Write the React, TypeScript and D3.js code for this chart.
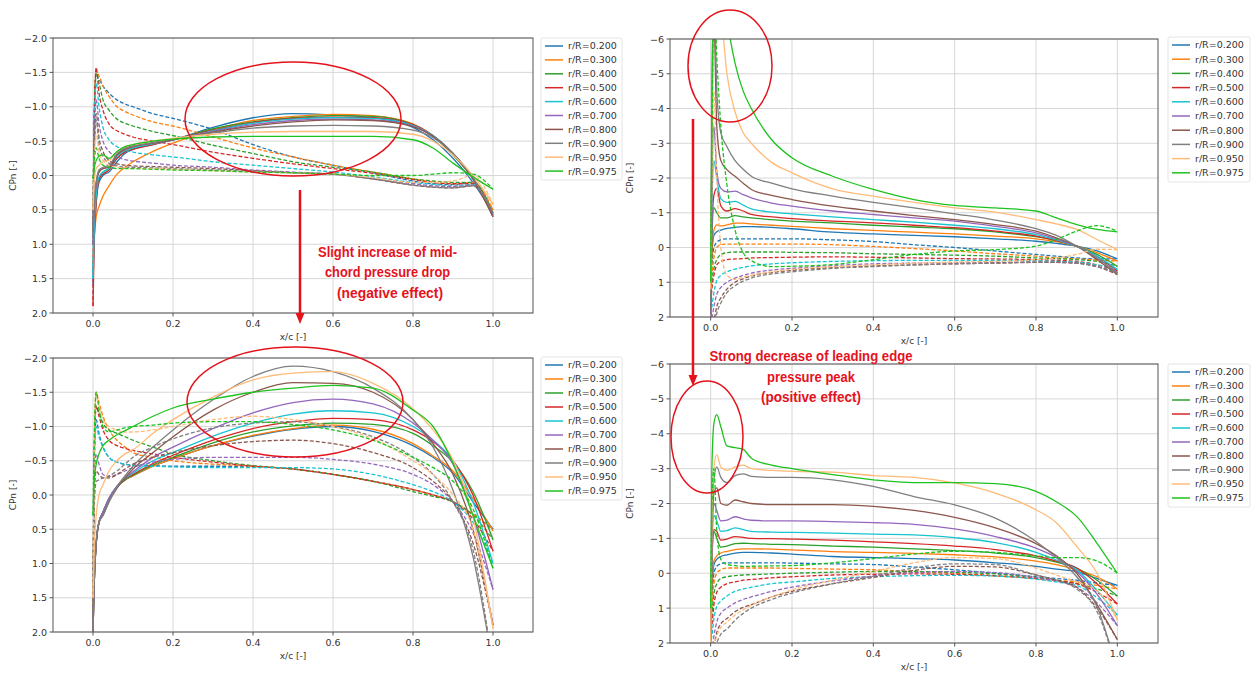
import React from "react";
import * as d3 from "d3";

// chordwise stations shared by every curve
const xc = [0, 0.003, 0.008, 0.015, 0.025, 0.04, 0.06, 0.08, 0.1, 0.15, 0.2, 0.3, 0.4, 0.5, 0.6, 0.7, 0.8, 0.85, 0.9, 0.95, 1.0];

const stations = ["0.200", "0.300", "0.400", "0.500", "0.600", "0.700", "0.800", "0.900", "0.950", "0.975"];
const colors = ["#1f77b4", "#ff7f0e", "#2ca02c", "#d62728", "#17c4d0", "#9467bd", "#8c564b", "#7f7f7f", "#ffbb78", "#1ec21e"];

const xTicks = [0, 0.2, 0.4, 0.6, 0.8, 1.0];
const yTicksHalf = [-2, -1.5, -1, -0.5, 0, 0.5, 1, 1.5, 2];
const yTicksUnit = [-6, -5, -4, -3, -2, -1, 0, 1, 2];

// top-left: suction side (solid)
const tlSuction = [
  [1.6, 0.9, 0.4, 0.1, 0.0, -0.05, -0.2, -0.32, -0.38, -0.45, -0.52, -0.7, -0.84, -0.9, -0.88, -0.84, -0.7, -0.52, -0.25, 0.1, 0.55],
  [1.2, 0.9, 0.6, 0.45, 0.3, 0.15, -0.02, -0.12, -0.2, -0.35, -0.47, -0.66, -0.8, -0.86, -0.89, -0.87, -0.75, -0.58, -0.3, 0.05, 0.5],
  [1.4, 0.8, 0.3, 0.05, -0.05, -0.1, -0.25, -0.35, -0.4, -0.47, -0.52, -0.68, -0.78, -0.84, -0.87, -0.86, -0.74, -0.57, -0.3, 0.05, 0.55],
  [1.9, 1.0, 0.4, 0.05, -0.02, -0.08, -0.25, -0.34, -0.38, -0.45, -0.52, -0.66, -0.77, -0.83, -0.85, -0.84, -0.74, -0.58, -0.32, 0.05, 0.58],
  [1.5, 0.8, 0.3, 0.02, -0.05, -0.1, -0.28, -0.36, -0.4, -0.46, -0.52, -0.65, -0.76, -0.82, -0.84, -0.83, -0.73, -0.58, -0.32, 0.05, 0.58],
  [1.0, 0.5, 0.15, -0.05, -0.1, -0.12, -0.3, -0.38, -0.42, -0.47, -0.52, -0.64, -0.74, -0.8, -0.82, -0.81, -0.72, -0.57, -0.32, 0.05, 0.6],
  [0.8, 0.4, 0.1, -0.05, -0.1, -0.12, -0.3, -0.38, -0.42, -0.47, -0.52, -0.63, -0.72, -0.78, -0.81, -0.8, -0.71, -0.57, -0.32, 0.05, 0.6],
  [0.9, 0.4, 0.1, -0.08, -0.12, -0.15, -0.32, -0.4, -0.43, -0.48, -0.53, -0.62, -0.69, -0.72, -0.73, -0.72, -0.66, -0.55, -0.32, 0.03, 0.55],
  [0.5, 0.1, -0.1, -0.15, -0.2, -0.22, -0.35, -0.42, -0.45, -0.5, -0.54, -0.6, -0.63, -0.64, -0.64, -0.64, -0.6, -0.5, -0.3, 0.0, 0.42],
  [0.05, -0.1, -0.22, -0.28, -0.3, -0.25, -0.35, -0.42, -0.45, -0.5, -0.53, -0.56, -0.57, -0.57, -0.57, -0.57, -0.52, -0.4, -0.18, 0.02, 0.2],
];
// top-left: pressure side (dashed)
const tlPressure = [
  [1.0, -0.8, -1.45, -1.4, -1.3, -1.2, -1.1, -1.04, -1.0, -0.9, -0.83, -0.67, -0.45, -0.27, -0.15, -0.04, 0.08, 0.12, 0.13, 0.1, 0.55],
  [1.0, -0.9, -1.5, -1.45, -1.3, -1.15, -1.0, -0.93, -0.88, -0.78, -0.72, -0.56, -0.4, -0.27, -0.15, -0.05, 0.05, 0.1, 0.12, 0.1, 0.5],
  [1.0, -0.9, -1.5, -1.35, -1.1, -0.95, -0.82, -0.76, -0.72, -0.64, -0.58, -0.44, -0.32, -0.2, -0.12, -0.05, 0.05, 0.08, 0.1, 0.1, 0.55],
  [1.9, -0.8, -1.57, -1.2, -0.95, -0.75, -0.65, -0.6, -0.56, -0.5, -0.45, -0.34, -0.25, -0.17, -0.1, -0.03, 0.06, 0.1, 0.12, 0.12, 0.58],
  [1.5, -0.7, -1.35, -1.0, -0.7, -0.52, -0.42, -0.37, -0.34, -0.3, -0.27, -0.2, -0.15, -0.1, -0.05, 0.02, 0.1, 0.13, 0.15, 0.13, 0.58],
  [1.0, -0.5, -1.1, -0.75, -0.5, -0.35, -0.27, -0.23, -0.21, -0.18, -0.15, -0.12, -0.08, -0.05, -0.02, 0.05, 0.12, 0.15, 0.16, 0.14, 0.6],
  [0.8, -0.4, -0.9, -0.55, -0.35, -0.22, -0.17, -0.15, -0.14, -0.13, -0.12, -0.1, -0.07, -0.04, -0.02, 0.05, 0.14, 0.17, 0.18, 0.15, 0.6],
  [0.9, -0.3, -0.8, -0.45, -0.28, -0.18, -0.14, -0.12, -0.12, -0.11, -0.1, -0.08, -0.06, -0.04, -0.02, 0.05, 0.14, 0.17, 0.18, 0.15, 0.55],
  [0.5, -0.2, -0.6, -0.35, -0.22, -0.15, -0.12, -0.11, -0.1, -0.1, -0.09, -0.07, -0.05, -0.04, -0.02, 0.03, 0.1, 0.1, 0.08, 0.0, 0.42],
  [0.05, -0.2, -0.4, -0.25, -0.15, -0.12, -0.1, -0.1, -0.1, -0.09, -0.08, -0.07, -0.05, -0.04, -0.02, 0.0, 0.0, -0.02, -0.04, -0.02, 0.2],
];

// bottom-left
const blSuction = [
  [1.8, 1.2, 0.7, 0.4, 0.25, 0.05, -0.12, -0.22, -0.28, -0.42, -0.53, -0.72, -0.86, -0.96, -1.0, -0.93, -0.72, -0.55, -0.32, 0.1, 0.5],
  [1.8, 1.2, 0.7, 0.4, 0.25, 0.05, -0.12, -0.22, -0.28, -0.42, -0.53, -0.72, -0.87, -0.97, -1.02, -0.96, -0.75, -0.57, -0.35, 0.05, 0.52],
  [1.9, 1.2, 0.7, 0.4, 0.25, 0.05, -0.12, -0.22, -0.29, -0.44, -0.55, -0.76, -0.92, -1.01, -1.05, -1.03, -0.9, -0.72, -0.48, -0.05, 0.65],
  [2.0, 1.3, 0.7, 0.4, 0.25, 0.05, -0.12, -0.23, -0.3, -0.46, -0.58, -0.8, -0.97, -1.07, -1.12, -1.1, -0.95, -0.78, -0.5, 0.0, 0.82],
  [2.0, 1.3, 0.7, 0.4, 0.25, 0.05, -0.13, -0.24, -0.32, -0.5, -0.62, -0.86, -1.05, -1.18, -1.23, -1.2, -1.0, -0.8, -0.5, 0.1, 1.0],
  [2.0, 1.3, 0.7, 0.4, 0.25, 0.05, -0.13, -0.25, -0.34, -0.55, -0.7, -0.97, -1.2, -1.35, -1.4, -1.33, -1.05, -0.8, -0.45, 0.3, 1.38],
  [2.0, 1.3, 0.7, 0.4, 0.3, 0.1, -0.1, -0.25, -0.38, -0.62, -0.85, -1.24, -1.5, -1.64, -1.63, -1.5, -1.1, -0.75, -0.3, 0.5, 1.9],
  [2.0, 1.3, 0.7, 0.4, 0.3, 0.1, -0.12, -0.28, -0.42, -0.7, -0.95, -1.39, -1.73, -1.88, -1.8, -1.56, -1.1, -0.7, -0.07, 0.9, 2.5],
  [1.5, 0.8, 0.3, 0.0, -0.15, -0.35, -0.5, -0.6, -0.66, -0.9, -1.1, -1.43, -1.68, -1.78, -1.8, -1.63, -1.26, -0.95, -0.51, 0.32, 1.95],
  [0.3, -0.2, -0.45, -0.6, -0.72, -0.8, -0.88, -0.94, -1.0, -1.15, -1.27, -1.4, -1.5, -1.56, -1.6, -1.56, -1.24, -1.0, -0.46, 0.3, 1.07],
];
const blPressure = [
  [1.8, -0.5, -1.1, -0.9, -0.7, -0.55, -0.48, -0.45, -0.44, -0.43, -0.42, -0.42, -0.41, -0.38, -0.3, -0.2, -0.08, 0.0, 0.1, 0.28, 0.5],
  [1.8, -0.6, -1.5, -1.35, -1.15, -0.95, -0.8, -0.7, -0.62, -0.55, -0.5, -0.45, -0.42, -0.38, -0.3, -0.2, -0.08, 0.0, 0.1, 0.28, 0.52],
  [1.9, -0.6, -1.3, -1.2, -1.05, -0.95, -0.9, -0.85, -0.8, -0.7, -0.6, -0.5, -0.43, -0.38, -0.3, -0.2, -0.05, 0.02, 0.1, 0.3, 0.65],
  [2.0, -0.5, -1.3, -1.15, -0.95, -0.8, -0.72, -0.68, -0.65, -0.6, -0.55, -0.48, -0.42, -0.38, -0.3, -0.2, -0.08, 0.0, 0.1, 0.35, 0.82],
  [2.0, -0.4, -1.0, -0.85, -0.7, -0.55, -0.48, -0.45, -0.43, -0.42, -0.41, -0.4, -0.4, -0.4, -0.38, -0.3, -0.15, -0.05, 0.1, 0.4, 1.0],
  [2.0, -0.2, -0.6, -0.45, -0.3, -0.27, -0.3, -0.35, -0.4, -0.48, -0.52, -0.55, -0.55, -0.55, -0.52, -0.45, -0.3, -0.15, 0.1, 0.55, 1.38],
  [2.0, 0.0, -0.35, -0.3, -0.25, -0.25, -0.3, -0.38, -0.45, -0.55, -0.62, -0.72, -0.78, -0.8, -0.75, -0.62, -0.4, -0.2, 0.1, 0.7, 1.9],
  [2.0, 0.2, -0.2, -0.22, -0.25, -0.28, -0.35, -0.45, -0.55, -0.7, -0.82, -0.98, -1.05, -1.07, -1.0, -0.85, -0.55, -0.3, 0.1, 0.8, 2.5],
  [1.5, -0.5, -1.5, -1.3, -1.1, -1.0, -0.95, -0.92, -0.92, -0.95, -1.0, -1.1, -1.15, -1.1, -1.0, -0.82, -0.5, -0.3, 0.0, 0.5, 1.95],
  [0.3, -0.8, -1.5, -1.25, -1.0, -0.92, -0.95, -0.98, -1.0, -1.02, -1.05, -1.07, -1.07, -1.03, -0.95, -0.8, -0.55, -0.4, -0.2, 0.2, 1.07],
];

// top-right
const trSuction = [
  [1.0, 0.2, -0.35, -0.45, -0.5, -0.55, -0.58, -0.6, -0.6, -0.58, -0.54, -0.44, -0.39, -0.35, -0.31, -0.25, -0.18, -0.12, -0.04, 0.1, 0.33],
  [1.2, 0.2, -0.5, -0.65, -0.62, -0.65, -0.7, -0.7, -0.68, -0.64, -0.61, -0.54, -0.49, -0.44, -0.39, -0.33, -0.25, -0.17, -0.04, 0.15, 0.39],
  [1.5, -0.3, -1.15, -1.0, -0.85, -0.85, -0.92, -0.88, -0.85, -0.8, -0.76, -0.71, -0.64, -0.59, -0.54, -0.45, -0.31, -0.2, -0.04, 0.2, 0.54],
  [1.7, -0.5, -1.5, -1.7, -1.2, -1.05, -1.12, -1.05, -0.95, -0.88, -0.83, -0.76, -0.71, -0.64, -0.57, -0.47, -0.33, -0.2, -0.04, 0.25, 0.68],
  [1.9, -1.0, -2.5, -2.0, -1.4, -1.3, -1.33, -1.22, -1.11, -1.02, -0.97, -0.88, -0.8, -0.73, -0.64, -0.54, -0.37, -0.22, -0.04, 0.25, 0.63],
  [1.8, -1.5, -3.5, -2.2, -1.7, -1.6, -1.62, -1.52, -1.43, -1.28, -1.19, -1.05, -0.95, -0.85, -0.76, -0.61, -0.42, -0.25, -0.04, 0.3, 0.73],
  [1.7, -3.0, -6.5, -3.5, -2.5, -2.24, -2.05, -1.85, -1.67, -1.5, -1.38, -1.19, -1.05, -0.92, -0.8, -0.66, -0.47, -0.28, -0.04, 0.35, 0.78],
  [1.5, -4.0, -7.5, -4.5, -3.3, -2.9, -2.5, -2.25, -2.05, -1.85, -1.69, -1.48, -1.3, -1.14, -0.97, -0.79, -0.54, -0.35, -0.04, 0.3, 0.73],
  [1.2, -3.0, -7.0, -7.5, -6.8, -5.0, -3.9, -3.3, -3.0, -2.45, -2.15, -1.69, -1.48, -1.3, -1.14, -1.02, -0.8, -0.68, -0.52, -0.23, 0.06],
  [1.0, -4.0, -8.0, -9.0, -8.0, -6.6, -5.3, -4.5, -4.0, -3.1, -2.58, -2.05, -1.67, -1.38, -1.21, -1.14, -1.05, -0.85, -0.66, -0.52, -0.45],
];
const trPressure = [
  [1.0, 0.5, 0.0, -0.15, -0.22, -0.25, -0.25, -0.25, -0.25, -0.25, -0.25, -0.22, -0.17, -0.08, 0.0, 0.1, 0.2, 0.25, 0.3, 0.33, 0.33],
  [1.2, 0.8, 0.3, 0.0, -0.08, -0.1, -0.1, -0.1, -0.1, -0.1, -0.1, -0.08, -0.03, 0.03, 0.1, 0.18, 0.25, 0.3, 0.33, 0.36, 0.39],
  [1.5, 1.0, 0.6, 0.35, 0.2, 0.15, 0.13, 0.13, 0.13, 0.13, 0.14, 0.15, 0.18, 0.2, 0.22, 0.25, 0.3, 0.32, 0.35, 0.4, 0.54],
  [1.7, 1.2, 0.8, 0.5, 0.4, 0.35, 0.33, 0.32, 0.3, 0.29, 0.28, 0.27, 0.28, 0.3, 0.32, 0.33, 0.35, 0.37, 0.4, 0.5, 0.68],
  [1.9, 1.7, 1.3, 0.95, 0.8, 0.7, 0.62, 0.57, 0.53, 0.47, 0.44, 0.4, 0.38, 0.37, 0.37, 0.37, 0.38, 0.4, 0.42, 0.5, 0.63],
  [1.8, 2.0, 1.7, 1.35, 1.15, 1.0, 0.88, 0.8, 0.74, 0.65, 0.6, 0.52, 0.47, 0.45, 0.44, 0.43, 0.42, 0.43, 0.45, 0.55, 0.73],
  [1.7, 2.2, 2.1, 1.7, 1.45, 1.2, 1.0, 0.9, 0.82, 0.72, 0.66, 0.58, 0.53, 0.5, 0.47, 0.45, 0.43, 0.43, 0.45, 0.55, 0.78],
  [1.5, 2.3, 2.3, 1.9, 1.6, 1.3, 1.1, 0.97, 0.88, 0.76, 0.7, 0.6, 0.55, 0.5, 0.47, 0.45, 0.42, 0.42, 0.45, 0.55, 0.73],
  [1.2, -2.0, -4.5, -2.0, 0.0, 0.8, 0.92, 0.85, 0.8, 0.7, 0.63, 0.55, 0.5, 0.45, 0.42, 0.4, 0.35, 0.3, 0.2, 0.05, 0.06],
  [1.0, -3.0, -7.5, -5.5, -3.5, -1.8, -0.5, 0.15, 0.38, 0.55, 0.54, 0.49, 0.35, 0.2, 0.1, 0.06, -0.04, -0.23, -0.47, -0.63, -0.47],
];

// bottom-right
const brSuction = [
  [1.5, 0.5, -0.25, -0.4, -0.48, -0.53, -0.58, -0.6, -0.6, -0.58, -0.55, -0.48, -0.45, -0.42, -0.38, -0.3, -0.2, -0.12, -0.05, 0.15, 0.35],
  [1.5, 0.4, -0.35, -0.5, -0.58, -0.63, -0.68, -0.7, -0.7, -0.69, -0.67, -0.62, -0.6, -0.57, -0.53, -0.47, -0.35, -0.25, -0.1, 0.1, 0.45],
  [1.6, -0.2, -1.2, -1.0, -0.75, -0.78, -0.85, -0.86, -0.85, -0.83, -0.82, -0.78, -0.75, -0.7, -0.65, -0.58, -0.45, -0.32, -0.15, 0.2, 0.65],
  [1.8, -0.4, -1.25, -1.2, -0.95, -0.98, -1.05, -1.03, -1.0, -0.99, -0.98, -0.95, -0.9, -0.85, -0.78, -0.68, -0.5, -0.35, -0.15, 0.3, 0.88],
  [1.9, -0.6, -1.65, -1.5, -1.2, -1.22, -1.3, -1.25, -1.2, -1.18, -1.17, -1.15, -1.12, -1.1, -1.02, -0.88, -0.6, -0.38, -0.1, 0.5, 1.2],
  [2.0, -0.8, -2.0, -1.8, -1.5, -1.52, -1.62, -1.56, -1.52, -1.5, -1.5, -1.48, -1.45, -1.4, -1.27, -1.05, -0.72, -0.45, -0.05, 0.6, 1.5],
  [2.0, -1.0, -2.3, -2.45, -2.0, -1.95, -2.1, -2.05, -2.0, -1.97, -1.97, -1.97, -1.92, -1.8, -1.6, -1.3, -0.85, -0.5, 0.0, 0.9, 1.9],
  [2.0, -1.2, -2.7, -3.05, -2.75, -2.6, -2.8, -2.85, -2.78, -2.75, -2.75, -2.68, -2.49, -2.2, -1.96, -1.58, -0.91, -0.45, 0.1, 0.96, 2.8],
  [2.0, -1.5, -3.0, -3.4, -3.05, -2.95, -3.05, -3.1, -3.0, -2.95, -2.92, -2.9, -2.8, -2.75, -2.59, -2.3, -1.82, -1.45, -0.77, 0.0, 1.34],
  [1.0, -3.0, -4.3, -4.55, -4.2, -3.65, -3.6, -3.55, -3.3, -3.1, -3.0, -2.83, -2.68, -2.6, -2.6, -2.57, -2.35, -2.05, -1.63, -0.86, 0.0],
];
const brPressure = [
  [1.5, 0.8, 0.0, -0.2, -0.27, -0.3, -0.3, -0.3, -0.3, -0.3, -0.29, -0.27, -0.25, -0.18, -0.1, 0.0, 0.1, 0.15, 0.2, 0.28, 0.35],
  [1.5, 1.0, 0.3, 0.0, -0.1, -0.15, -0.15, -0.15, -0.15, -0.15, -0.14, -0.12, -0.1, -0.05, 0.0, 0.08, 0.15, 0.2, 0.25, 0.35, 0.45],
  [1.6, 1.2, 0.6, 0.3, 0.15, 0.1, 0.07, 0.05, 0.04, 0.02, 0.0, -0.03, -0.05, -0.05, -0.03, 0.02, 0.12, 0.2, 0.3, 0.45, 0.65],
  [1.8, 1.5, 0.9, 0.55, 0.4, 0.3, 0.25, 0.2, 0.18, 0.13, 0.1, 0.05, 0.03, 0.02, 0.03, 0.07, 0.15, 0.22, 0.3, 0.55, 0.88],
  [1.9, 1.8, 1.3, 0.95, 0.8, 0.65, 0.52, 0.45, 0.4, 0.3, 0.25, 0.15, 0.1, 0.07, 0.06, 0.08, 0.17, 0.25, 0.35, 0.7, 1.2],
  [2.0, 2.2, 1.8, 1.4, 1.15, 1.0, 0.85, 0.75, 0.68, 0.52, 0.4, 0.22, 0.08, -0.02, -0.05, -0.02, 0.12, 0.22, 0.4, 0.85, 1.5],
  [2.0, 2.3, 2.1, 1.7, 1.45, 1.3, 1.1, 0.98, 0.9, 0.68, 0.52, 0.3, 0.12, -0.08, -0.2, -0.18, 0.05, 0.2, 0.4, 1.0, 1.9],
  [2.0, 2.4, 2.3, 2.0, 1.75, 1.6, 1.35, 1.15, 1.0, 0.75, 0.57, 0.3, 0.08, -0.15, -0.27, -0.25, 0.05, 0.2, 0.45, 1.1, 2.8],
  [2.0, 2.3, 2.1, 1.8, 1.55, 1.4, 1.2, 1.05, 0.92, 0.68, 0.48, 0.2, -0.05, -0.3, -0.45, -0.42, -0.15, 0.05, 0.25, 0.5, 1.34],
  [1.0, -2.0, -3.0, -1.2, -0.4, -0.25, -0.22, -0.2, -0.2, -0.21, -0.22, -0.3, -0.42, -0.55, -0.63, -0.6, -0.5, -0.45, -0.45, -0.35, 0.0],
];

// annotation lines: [text, centre x, baseline y, rendered width]
const notes: [string, number, number, number][] = [
  ["Slight increase of mid-", 387.5, 257, 139],
  ["chord pressure drop", 387.5, 277, 125],
  ["(negative effect)", 390, 298, 106],
  ["Strong decrease of leading edge", 811, 361, 203],
  ["pressure peak", 811, 382, 88],
  ["(positive effect)", 811, 402, 100],
];

const red = "#e5121c";
const tickFont = "'DejaVu Sans', sans-serif";
const noteFont = "'Liberation Sans', Arial, sans-serif";

const panels = [
  { id: "tl", left: 53, top: 38, right: 533, bottom: 313, yMin: -2, yMax: 2, yTicks: yTicksHalf, fmt: ".1f", suction: tlSuction, pressure: tlPressure, lg: { x: 541, y: 38, w: 81, step: 13.9 } },
  { id: "bl", left: 53, top: 358, right: 533, bottom: 632, yMin: -2, yMax: 2, yTicks: yTicksHalf, fmt: ".1f", suction: blSuction, pressure: blPressure, lg: { x: 541, y: 357, w: 81, step: 14 } },
  { id: "tr", left: 670, top: 39, right: 1158, bottom: 317, yMin: -6, yMax: 2, yTicks: yTicksUnit, fmt: "d", suction: trSuction, pressure: trPressure, lg: { x: 1168, y: 37, w: 82, step: 14.2 } },
  { id: "br", left: 670, top: 364, right: 1158, bottom: 643, yMin: -6, yMax: 2, yTicks: yTicksUnit, fmt: "d", suction: brSuction, pressure: brPressure, lg: { x: 1168, y: 364, w: 82, step: 14 } },
];

const fmtTick = (f: string) => {
  const base = d3.format(f);
  return (v: number) => base(v).replace("-", "\u2212");
};

function Panel({ p }: { p: any }) {
  const x = d3.scaleLinear().domain([-0.1, 1.1]).range([p.left, p.right]);
  const y = d3.scaleLinear().domain([p.yMin, p.yMax]).range([p.top, p.bottom]);
  const line = d3
    .line<number>()
    .x((_, i) => x(xc[i]))
    .y(d => y(d))
    .curve(d3.curveMonotoneX);
  const yf = fmtTick(p.fmt);
  const xf = d3.format(".1f");
  const cx = (p.left + p.right) / 2;
  const cy = (p.top + p.bottom) / 2;

  return (
    <g>
      <defs>
        <clipPath id={"clip-" + p.id}>
          <rect x={p.left} y={p.top} width={p.right - p.left} height={p.bottom - p.top} />
        </clipPath>
      </defs>
      {/* grid */}
      {xTicks.map(t => (
        <line key={"gx" + t} x1={x(t)} x2={x(t)} y1={p.top} y2={p.bottom} stroke="#d2d2d2" strokeWidth={0.9} />
      ))}
      {p.yTicks.map((t: number) => (
        <line key={"gy" + t} x1={p.left} x2={p.right} y1={y(t)} y2={y(t)} stroke="#d2d2d2" strokeWidth={0.9} />
      ))}
      {/* curves */}
      <g clipPath={`url(#clip-${p.id})`} fill="none" strokeWidth={1.3}>
        {stations.map((s, i) => (
          <g key={s}>
            <path d={line(p.suction[i]) || ""} stroke={colors[i]} />
            <path d={line(p.pressure[i]) || ""} stroke={colors[i]} strokeDasharray="4,2" />
          </g>
        ))}
      </g>
      <rect x={p.left} y={p.top} width={p.right - p.left} height={p.bottom - p.top} fill="none" stroke="#555" strokeWidth={1} />
      {/* ticks */}
      <g fontFamily={tickFont} fontSize={9.5} fill="#333">
        {xTicks.map(t => (
          <g key={"tx" + t}>
            <line x1={x(t)} x2={x(t)} y1={p.bottom} y2={p.bottom + 3.5} stroke="#555" />
            <text x={x(t)} y={p.bottom + 14} textAnchor="middle">{xf(t)}</text>
          </g>
        ))}
        {p.yTicks.map((t: number) => (
          <g key={"ty" + t}>
            <line x1={p.left - 3.5} x2={p.left} y1={y(t)} y2={y(t)} stroke="#555" />
            <text x={p.left - 6} y={y(t) + 3.5} textAnchor="end">{yf(t)}</text>
          </g>
        ))}
        <text x={cx} y={p.bottom + 27} textAnchor="middle" fontSize={9}>x/c [-]</text>
        <text transform={`translate(${p.left - 37},${cy}) rotate(-90)`} textAnchor="middle" fontSize={9}>CPn [-]</text>
      </g>
      {/* legend */}
      <g fontFamily={tickFont} fontSize={9.5} fill="#333">
        <rect x={p.lg.x} y={p.lg.y} width={p.lg.w} height={p.lg.step * 10 + 3} rx={2} fill="#fff" stroke="#ddd" strokeWidth={0.8} />
        {stations.map((s, i) => {
          const ly = p.lg.y + 8 + i * p.lg.step;
          return (
            <g key={"lg" + s}>
              <line x1={p.lg.x + 4} x2={p.lg.x + 22} y1={ly} y2={ly} stroke={colors[i]} strokeWidth={1.5} />
              <text x={p.lg.x + 27} y={ly + 3.4}>{"r/R=" + s}</text>
            </g>
          );
        })}
      </g>
    </g>
  );
}

export default function App() {
  return (
    <svg
      width={1255}
      height={675}
      viewBox="0 0 1255 675"
      style={{ position: "absolute", left: 0, top: 0, background: "#fff" }}
    >
      <rect width={1255} height={675} fill="#fff" />
      {panels.map(p => (
        <Panel key={p.id} p={p} />
      ))}

      {/* highlight ellipses */}
      <g fill="none" stroke={red} strokeWidth={1.5}>
        <ellipse cx={293} cy={119} rx={108} ry={57} />
        <ellipse cx={295} cy={402} rx={108} ry={55} />
        <ellipse cx={730} cy={66} rx={42} ry={56} />
        <ellipse cx={707} cy={437} rx={36} ry={56} />
      </g>

      {/* arrows */}
      <g stroke={red} strokeWidth={2.5}>
        <line x1={300} y1={190} x2={300} y2={314} />
        <line x1={693} y1={119} x2={693} y2={376} />
      </g>
      <g fill={red}>
        <polygon points="295.5,313 304.5,313 300,324" />
        <polygon points="688.5,375 697.5,375 693,386" />
      </g>

      {/* annotations */}
      <g fontFamily={noteFont} fontWeight="bold" fontSize={14} fill={red}>
        {notes.map(([t, nx, ny, w]) => (
          <text key={t} x={nx - w / 2} y={ny} textLength={w} lengthAdjust="spacingAndGlyphs">
            {t}
          </text>
        ))}
      </g>
    </svg>
  );
}
